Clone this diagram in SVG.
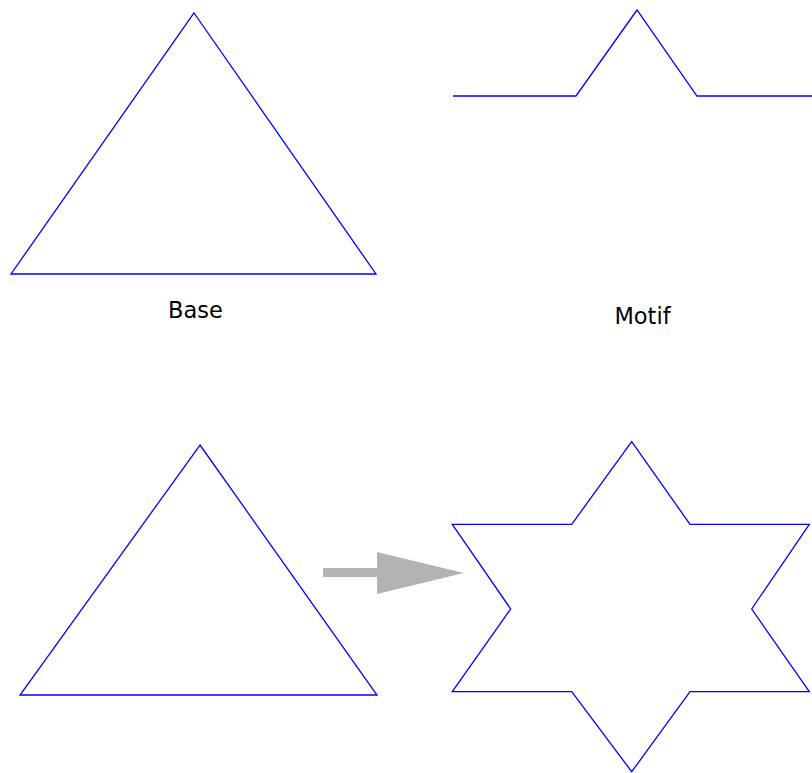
<svg xmlns="http://www.w3.org/2000/svg" width="812" height="773" viewBox="0 0 812 773">
<style>
.shape{fill:none;stroke:#0000ff;stroke-width:1.3;stroke-linejoin:miter}
.lbl{font-family:"DejaVu Sans","Open Sans",sans-serif;font-size:22.5px;fill:#000000;text-anchor:middle}
</style>
<rect width="812" height="773" fill="#ffffff"/>
<g id="base">
<polygon class="shape" points="194,13 376,274 11,274"/>
<text class="lbl" x="195.5" y="318">Base</text>
</g>
<g id="motif">
<polyline class="shape" points="453,96 576,96 637,10 697,96 812,96"/>
<text class="lbl" x="642.5" y="323.5">Motif</text>
</g>
<g id="triangle">
<polygon class="shape" points="200,445 377,695 20,695"/>
</g>
<g id="star">
<polygon class="shape" points="631.7,441.7 690,524.3 809.3,524.3 751.7,609 809.3,691.7 690,691.7 631.7,771.7 571.7,691.7 452.3,691.7 510.7,609 452.3,524.3 571.7,524.3"/>
</g>
<g id="connectors">
<polygon fill="#b3b3b3" points="323,568 377,568 377,552 464,573 377,594 377,577 323,577"/>
</g>
</svg>
